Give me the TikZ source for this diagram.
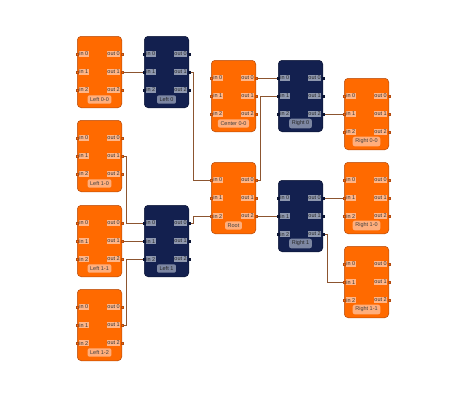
\documentclass[tikz,border=0pt]{standalone}
\usepackage{fontspec}
\setmainfont{Liberation Sans}
\usetikzlibrary{calc}
\definecolor{orfill}{HTML}{FF6A00}
\definecolor{ordraw}{HTML}{B44C10}
\definecolor{nvfill}{HTML}{13204F}
\definecolor{nvdraw}{HTML}{0C1535}
\definecolor{orlab}{HTML}{FFB587}
\definecolor{nvlab}{HTML}{8E97AE}
\definecolor{orbot}{HTML}{FFAE7C}
\definecolor{nvbot}{HTML}{7C86A2}
\definecolor{wirec}{HTML}{8C5530}
\tikzset{
  obox/.style={draw=ordraw, fill=orfill, line width=0.5pt, rounded corners=4pt, minimum width=44.5pt, minimum height=71.5pt, inner sep=0pt},
  nbox/.style={draw=nvdraw, fill=nvfill, line width=0.5pt, rounded corners=4pt, minimum width=44.5pt, minimum height=71.5pt, inner sep=0pt},
  oport/.style={draw=ordraw, fill=orfill, line width=0.4pt, minimum size=2.4pt, inner sep=0pt},
  nport/.style={draw=nvdraw, fill=nvdraw, line width=0.4pt, minimum size=2.4pt, inner sep=0pt},
  oplab/.style={fill=orlab, text=black!80, font=\fontsize{5.5}{6}\selectfont, inner xsep=0.5pt, inner ysep=0.8pt},
  nplab/.style={fill=nvlab, text=black!85, font=\fontsize{5.5}{6}\selectfont, inner xsep=0.5pt, inner ysep=0.8pt},
  obot/.style={fill=orbot, text=black!75, rounded corners=2pt, font=\fontsize{5.5}{6}\selectfont, inner xsep=2.6pt, inner ysep=2.2pt},
  nbot/.style={fill=nvbot, text=black!85, rounded corners=2pt, font=\fontsize{5.5}{6}\selectfont, inner xsep=2.6pt, inner ysep=2.2pt},
  wire/.style={draw=wirec, line width=0.6pt},
}
\newcommand{\mkblk}[5]{%
  \node[#4box, anchor=north west] (#1) at (#2,#3) {};
  \foreach \i/\dy in {0/18,1/36,2/54} {
    \coordinate (#1-i\i) at ($(#1.north west)+(0,\dy)$);
    \coordinate (#1-o\i) at ($(#1.north east)+(0,\dy)$);
    \node[#4plab, anchor=west] (#1-il\i) at ($(#1-i\i)+(1.6,0)$) {in \i};
    \node[#4plab, anchor=east] (#1-ol\i) at ($(#1-o\i)+(-1.6,0)$) {out \i};
    \node[#4port] (#1-ip\i) at (#1-i\i) {};
    \node[#4port] (#1-op\i) at (#1-o\i) {};
  }
  \node[#4bot] (#1-lab) at ($(#1.north)+(0,63.5)$) {#5};
}
\begin{document}
\begin{tikzpicture}[x=1pt, y=-1pt]
\useasboundingbox (0,0) rectangle (460,400);
\mkblk{L00}{77}{36}{o}{Left 0-0}
\mkblk{L0}{144}{36}{n}{Left 0}
\mkblk{C00}{211}{60}{o}{Center 0-0}
\mkblk{R0}{278}{60}{n}{Right 0}
\mkblk{R00}{344}{78}{o}{Right 0-0}
\mkblk{L10}{77}{120}{o}{Left 1-0}
\mkblk{Root}{211}{162}{o}{Root}
\mkblk{R1}{278}{180}{n}{Right 1}
\mkblk{R10}{344}{162}{o}{Right 1-0}
\mkblk{L11}{77}{205}{o}{Left 1-1}
\mkblk{L1}{144}{205}{n}{Left 1}
\mkblk{L12}{77}{289}{o}{Left 1-2}
\mkblk{R11}{344}{246}{o}{Right 1-1}
% connectors
\draw[wire] (L00-op1) -- (L0-ip1);
\draw[wire] (L0-op1) -- ++(4.5,0) |- (Root-ip0);
\draw[wire] (L10-op1) -- ++(4.5,0) |- (L1-ip0);
\draw[wire] (L11-op1) -- (L1-ip1);
\draw[wire] (L12-op1) -- ++(4.5,0) |- (L1-ip2);
\draw[wire] (L1-op0) -- ++(4.5,0) |- (Root-ip2);
\draw[wire] (C00-op0) -- (R0-ip0);
\draw[wire] (Root-op0) -- ++(4.5,0) |- (R0-ip1);
\draw[wire] (Root-op2) -- (R1-ip1);
\draw[wire] (R0-op2) -- (R00-ip1);
\draw[wire] (R1-op0) -- (R10-ip1);
\draw[wire] (R1-op2) -- ++(4.5,0) |- (R11-ip1);
% port markers on top of the connectors
\foreach \b/\t in {L00/o,L0/n,C00/o,R0/n,R00/o,L10/o,Root/o,R1/n,R10/o,L11/o,L1/n,L12/o,R11/o} {
  \foreach \i in {0,1,2} {
    \node[\t port] at (\b-i\i) {};
    \node[\t port] at (\b-o\i) {};
  }
}
\end{tikzpicture}
\end{document}
